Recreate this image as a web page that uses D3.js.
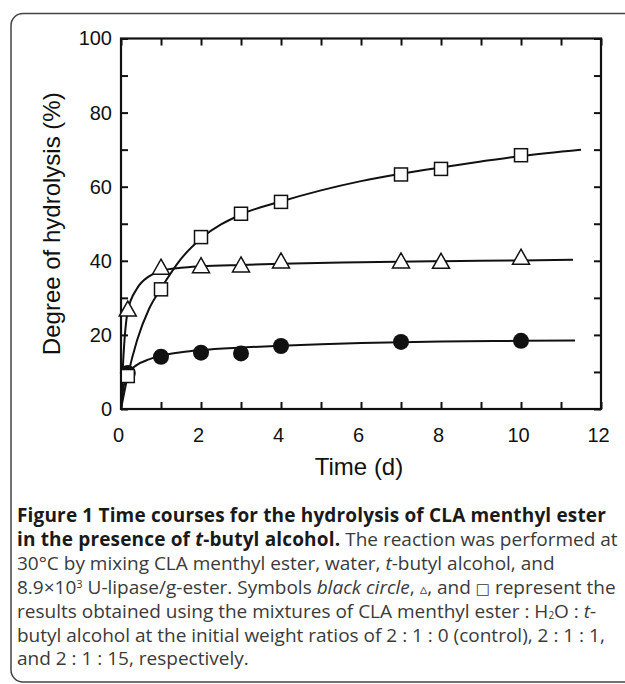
<!DOCTYPE html>
<html>
<head>
<meta charset="utf-8">
<script src="https://cdn.jsdelivr.net/npm/d3@7"></script>
<style>
  body { margin: 0; background: #fff; }
  svg { display: block; }
</style>
</head>
<body>
<div id="chart"></div>
<script>
// measured points (time in days, degree of hydrolysis in %)
const controlDays = [0.17, 1, 2, 3, 4, 7, 10];
const controlValues = [9.7, 14.1, 15.2, 15.0, 17.0, 18.1, 18.4];
const ratio1Days = [0.17, 1, 2, 3, 4, 7, 8, 10];
const ratio1Values = [26.7, 38.0, 38.4, 38.6, 39.7, 39.7, 39.6, 40.7];
const ratio15Days = [0.17, 1, 2, 3, 4, 7, 8, 10];
const ratio15Values = [8.9, 32.3, 46.4, 52.7, 55.9, 63.3, 64.8, 68.5];

// fitted curves
const controlCurveDays = [0, 0.05, 0.17, 0.4, 0.7, 1, 1.5, 2, 3, 4, 5, 6, 8, 10, 11.35];
const controlCurveValues = [0, 5, 9.6, 11.9, 13.4, 14.4, 15.3, 15.9, 16.6, 17.1, 17.5, 17.8, 18.2, 18.4, 18.5];
const ratio1CurveDays = [0, 0.05, 0.17, 0.4, 0.7, 1, 1.5, 2, 3, 4, 6, 8, 10, 11.3];
const ratio1CurveValues = [0, 12, 26.5, 32.5, 35.8, 37.3, 38.1, 38.5, 38.9, 39.2, 39.6, 39.9, 40.1, 40.3];
const ratio15CurveDays = [0, 0.17, 0.4, 0.7, 1, 1.5, 2, 3, 4, 5, 6, 7, 8, 9, 10, 11.5];
const ratio15CurveValues = [0, 9, 18.5, 27, 32.5, 40.5, 46, 52.5, 56, 59, 61.5, 63.5, 65.2, 66.8, 68.3, 70];

const xTickValues = [0, 1, 2, 3, 4, 5, 6, 7, 8, 9, 10, 11, 12];
const xLabelValues = [0, 2, 4, 6, 8, 10, 12];
const yTickValues = [0, 10, 20, 30, 40, 50, 60, 70, 80, 90, 100];
const yLabelValues = [0, 20, 40, 60, 80, 100];

const xTitle = 'Time (d)';
const yTitle = 'Degree of hydrolysis (%)';

// caption: one entry per printed line, each a list of [text, style]
const captionLines = [
  [['Figure 1 Time courses for the hydrolysis of CLA menthyl ester', 'b']],
  [['in the presence of ', 'b'], ['t', 'bi'], ['-butyl alcohol.', 'b'], [' The reaction was performed at', 'r']],
  [['30\u00b0C by mixing CLA menthyl ester, water, ', 'r'], ['t', 'i'], ['-butyl alcohol, and', 'r']],
  [['8.9\u00d710', 'r'], ['3', 'sup'], [' U-lipase/g-ester. Symbols ', 'r'], ['black circle', 'i'], [', ', 'r'],
   ['\u25b5', 'sym'], [', and ', 'r'], ['\u25a1', 'sym'], [' represent the', 'r']],
  [['results obtained using the mixtures of CLA menthyl ester : H', 'r'], ['2', 'sub'], ['O : ', 'r'], ['t', 'i'], ['-', 'r']],
  [['butyl alcohol at the initial weight ratios of 2 : 1 : 0 (control), 2 : 1 : 1,', 'r']],
  [['and 2 : 1 : 15, respectively.', 'r']],
];

const width = 625;
const height = 684;

const svg = d3.select('#chart')
  .append('svg')
  .attr('width', width)
  .attr('height', height);

// panel border, right and bottom run off the page
svg.append('rect')
  .attr('x', 11)
  .attr('y', 13.5)
  .attr('width', 700)
  .attr('height', 668.5)
  .attr('rx', 12)
  .attr('fill', 'none')
  .attr('stroke', '#444')
  .attr('stroke-width', 1.5);

const plot = { left: 121, right: 601, top: 38.5, bottom: 409 };

const x = d3.scaleLinear().domain([0, 12]).range([plot.left, plot.right]);
const y = d3.scaleLinear().domain([0, 100]).range([plot.bottom, plot.top]);

const tickLen = 7;
const axisFont = '"Liberation Sans", Arial, Helvetica, sans-serif';

function styleAxis(g) {
  g.select('.domain').remove();
  g.selectAll('.tick line').attr('stroke', '#111').attr('stroke-width', 2);
  g.selectAll('.tick text')
    .attr('fill', '#111')
    .style('font-family', axisFont)
    .style('font-size', '20px');
}

svg.append('g')
  .attr('transform', `translate(0,${plot.bottom})`)
  .call(d3.axisBottom(x)
    .tickValues(xTickValues)
    .tickSize(-tickLen)
    .tickPadding(19)
    .tickFormat((d) => (xLabelValues.includes(d) ? d : '')))
  .call(styleAxis)
  .call((g) => g.selectAll('.tick text').attr('dx', -3));

svg.append('g')
  .attr('transform', `translate(0,${plot.top})`)
  .call(d3.axisTop(x).tickValues(xTickValues).tickSize(-tickLen).tickFormat(''))
  .call(styleAxis);

svg.append('g')
  .attr('transform', `translate(${plot.left},0)`)
  .call(d3.axisLeft(y)
    .tickValues(yTickValues)
    .tickSize(-tickLen)
    .tickPadding(9)
    .tickFormat((d) => (yLabelValues.includes(d) ? d : '')))
  .call(styleAxis);

svg.append('g')
  .attr('transform', `translate(${plot.right},0)`)
  .call(d3.axisRight(y).tickValues(yTickValues).tickSize(-tickLen).tickFormat(''))
  .call(styleAxis);

svg.append('rect')
  .attr('x', plot.left)
  .attr('y', plot.top)
  .attr('width', plot.right - plot.left)
  .attr('height', plot.bottom - plot.top)
  .attr('fill', 'none')
  .attr('stroke', '#111')
  .attr('stroke-width', 2.2);

svg.append('text')
  .attr('x', (plot.left + plot.right) / 2 - 2)
  .attr('y', 475)
  .attr('text-anchor', 'middle')
  .style('font-family', axisFont)
  .style('font-size', '24px')
  .attr('fill', '#111')
  .text(xTitle);

svg.append('text')
  .attr('transform', `translate(60,${(plot.top + plot.bottom) / 2}) rotate(-90)`)
  .attr('text-anchor', 'middle')
  .style('font-family', axisFont)
  .style('font-size', '24px')
  .attr('fill', '#111')
  .text(yTitle);

// curves
const line = d3.line()
  .x((d) => x(d[0]))
  .y((d) => y(d[1]))
  .curve(d3.curveMonotoneX);

const curves = [
  d3.zip(ratio15CurveDays, ratio15CurveValues),
  d3.zip(ratio1CurveDays, ratio1CurveValues),
  d3.zip(controlCurveDays, controlCurveValues),
];

svg.append('g')
  .selectAll('path')
  .data(curves)
  .join('path')
  .attr('d', line)
  .attr('fill', 'none')
  .attr('stroke', '#111')
  .attr('stroke-width', 2);

// markers
const markers = svg.append('g');

markers.selectAll('circle')
  .data(d3.zip(controlDays, controlValues))
  .join('circle')
  .attr('cx', (d) => x(d[0]))
  .attr('cy', (d) => y(d[1]))
  .attr('r', 8)
  .attr('fill', '#111');

markers.selectAll('path.tri')
  .data(d3.zip(ratio1Days, ratio1Values))
  .join('path')
  .attr('class', 'tri')
  .attr('transform', (d) => `translate(${x(d[0])},${y(d[1])})`)
  .attr('d', 'M0,-9L8.5,6L-8.5,6Z')
  .attr('fill', '#fff')
  .attr('stroke', '#111')
  .attr('stroke-width', 1.5)
  .attr('stroke-linejoin', 'miter');

markers.selectAll('rect.sq')
  .data(d3.zip(ratio15Days, ratio15Values))
  .join('rect')
  .attr('class', 'sq')
  .attr('x', (d) => x(d[0]) - 6.5)
  .attr('y', (d) => y(d[1]) - 6.5)
  .attr('width', 13)
  .attr('height', 13)
  .attr('fill', '#fff')
  .attr('stroke', '#111')
  .attr('stroke-width', 1.5);

// caption
const capFont = '"Open Sans", "Noto Sans", sans-serif';
const caption = svg.append('g')
  .style('font-family', capFont)
  .style('font-size', '19px');

captionLines.forEach((segments, i) => {
  const t = caption.append('text')
    .attr('x', 17)
    .attr('y', 522 + i * 23.9);
  let shift = 0;
  segments.forEach(([str, kind]) => {
    const ts = t.append('tspan').text(str);
    let dy = -shift;
    shift = 0;
    if (kind === 'b' || kind === 'bi') {
      ts.attr('font-weight', 700).attr('fill', '#1a1a1a').style('letter-spacing', '0.16px');
    } else {
      ts.attr('fill', '#3a3a3a');
    }
    if (kind === 'i' || kind === 'bi') ts.attr('font-style', 'italic');
    if (kind === 'sup') { ts.style('font-size', '11px'); dy -= 6; shift = -6; }
    if (kind === 'sub') { ts.style('font-size', '10px'); dy += 1.5; shift = 1.5; }
    if (kind === 'sym') ts.style('font-family', '"DejaVu Sans", sans-serif').style('font-size', '15px');
    if (dy !== 0) ts.attr('dy', dy);
  });
});
</script>
</body>
</html>
